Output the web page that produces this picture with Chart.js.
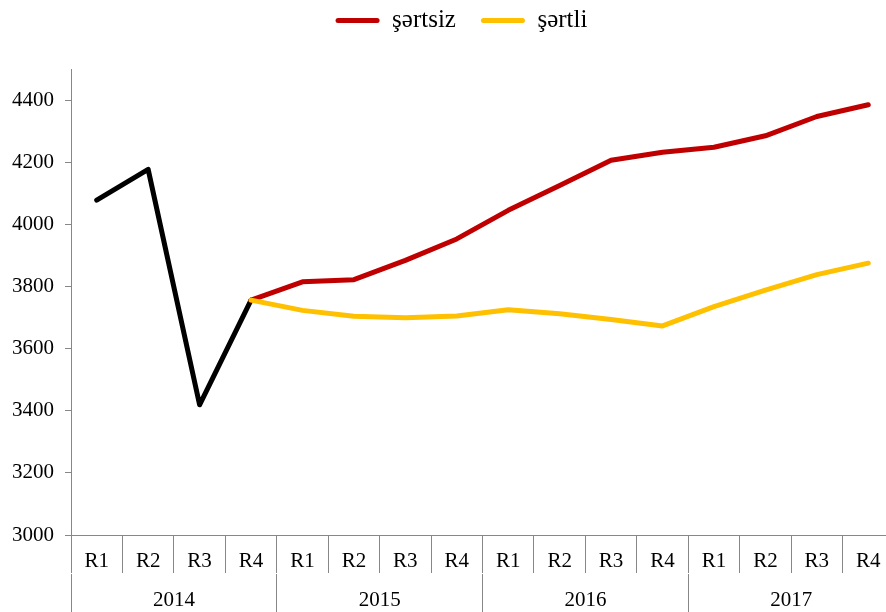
<!DOCTYPE html>
<html>
<head>
<meta charset="utf-8">
<script src="https://cdn.jsdelivr.net/npm/chart.js@4/dist/chart.umd.min.js"></script>
<style>
  html, body { margin: 0; padding: 0; background: #fff; overflow: hidden; }
  #wrap { width: 894px; height: 612px; }
</style>
</head>
<body>
<div id="wrap"><canvas id="c" width="894" height="612"></canvas></div>
<script>
// Quarter labels and their years
const quarters = ['R1','R2','R3','R4','R1','R2','R3','R4','R1','R2','R3','R4','R1','R2','R3','R4'];
const years = ['2014', '2015', '2016', '2017'];

// Actual values (2014) and the two projected paths from 2014 R4 onward
const actual = [4078, 4177, 3419, 3756, null, null, null, null, null, null, null, null, null, null, null, null];
const unconditional = [null, null, null, 3756, 3815, 3822, 3884, 3953, 4045, 4125, 4206, 4232, 4248, 4285, 4347, 4385];
const conditional = [null, null, null, 3756, 3723, 3704, 3699, 3705, 3725, 3712, 3694, 3673, 3735, 3788, 3838, 3875];

const GRAY = '#878787';
const FONT = '"Liberation Serif", "Times New Roman", serif';

// Legend: fixed band height above the plot, drawn a bit higher and right of centre
const legendPlacement = {
  id: 'legendPlacement',
  beforeInit(chart) {
    const fit = chart.legend.fit;
    chart.legend.fit = function () {
      fit.call(this);
      this.height = 69;
    };
  },
  afterLayout(chart) {
    const lg = chart.legend;
    lg.top -= 17; lg.bottom -= 17;
    lg.left += 14; lg.right += 14;
  }
};

// Fixed heights for the two rows of the category axis
const rowHeight = h => scale => { scale.height = h; };

new Chart(document.getElementById('c'), {
  type: 'line',
  data: {
    labels: quarters,
    datasets: [
      { label: 'şərtsiz', data: unconditional, borderColor: '#C00000', backgroundColor: '#C00000', order: 2 },
      { label: 'şərtli', data: conditional, borderColor: '#FFC000', backgroundColor: '#FFC000', order: 1 },
      { label: 'faktiki', data: actual, borderColor: '#000000', backgroundColor: '#000000', order: 3 }
    ]
  },
  plugins: [legendPlacement],
  options: {
    responsive: false,
    animation: false,
    layout: { padding: { left: 1, right: 0, top: 0, bottom: 0 } },
    elements: {
      line: { borderWidth: 5, tension: 0, borderCapStyle: 'round', borderJoinStyle: 'round', fill: false },
      point: { radius: 0, hoverRadius: 0 }
    },
    plugins: {
      tooltip: { enabled: false },
      legend: {
        position: 'top',
        labels: {
          color: '#000',
          font: { family: FONT, size: 25 },
          boxWidth: 44,
          boxHeight: 5,
          useBorderRadius: true,
          borderRadius: 2.5,
          padding: 25,
          generateLabels(chart) {
            return chart.data.datasets.slice(0, 2).map((ds, i) => ({
              text: ds.label,
              fillStyle: ds.borderColor,
              strokeStyle: ds.borderColor,
              fontColor: '#000',
              lineWidth: 0,
              borderRadius: 2.5,
              datasetIndex: i,
              hidden: false
            }));
          }
        }
      }
    },
    scales: {
      y: {
        min: 3000,
        max: 4500,
        afterBuildTicks(scale) {
          scale.ticks = scale.ticks.filter(t => t.value <= 4400);
        },
        ticks: {
          stepSize: 200,
          color: '#000',
          font: { family: FONT, size: 21 },
          padding: 11,
          callback: v => String(v)
        },
        grid: { drawOnChartArea: false, drawTicks: true, tickLength: 6, color: GRAY },
        border: { color: GRAY, width: 1 }
      },
      x: {
        type: 'category',
        position: 'bottom',
        offset: true,
        afterFit: rowHeight(39),
        ticks: { color: '#000', font: { family: FONT, size: 21 }, padding: -24, maxRotation: 0, autoSkip: false },
        grid: { offset: true, drawOnChartArea: false, drawTicks: true, tickLength: 38, color: GRAY },
        border: { color: GRAY, width: 1 }
      },
      x2: {
        type: 'category',
        position: 'bottom',
        labels: years,
        offset: true,
        afterFit: rowHeight(38),
        ticks: { color: '#000', font: { family: FONT, size: 21 }, padding: -26, maxRotation: 0, autoSkip: false },
        grid: { offset: true, drawOnChartArea: false, drawTicks: true, tickLength: 40, color: GRAY },
        border: { display: false }
      }
    }
  }
});
</script>
</body>
</html>
